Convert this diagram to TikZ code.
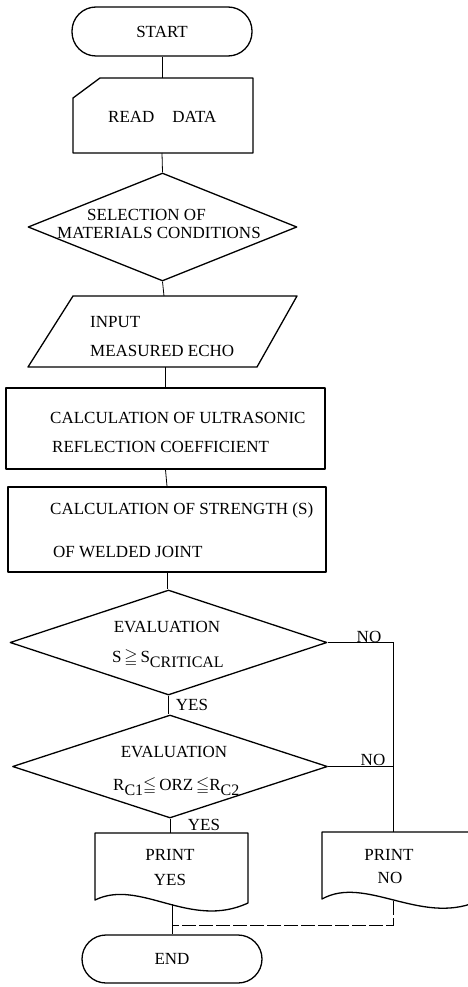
\documentclass[tikz,border=0pt]{standalone}
\usepackage{amssymb}
\usepackage{fontspec}
\setmainfont{Liberation Serif}
\usetikzlibrary{shapes.geometric}
\begin{document}
\begin{tikzpicture}[x=1pt,y=-1pt,
  shp/.style={draw, line width=1.3pt, line join=round},
  con/.style={draw, line width=0.8pt},
  faint/.style={draw, line width=0.6pt},
  ret/.style={draw, line width=0.6pt, dash pattern=on 14pt off 3pt},
  txt/.style={inner sep=0pt, font=\fontsize{17}{17}\selectfont},
  term/.style={shp, rectangle, rounded corners=24pt, minimum width=180pt, minimum height=49pt, inner sep=0pt, font=\fontsize{17}{17}\selectfont},
  procbox/.style={shp, rectangle, inner sep=0pt},
  dia/.style={shp, diamond, inner sep=0pt}]
\useasboundingbox (0,0) rectangle (468,987);

% START
\node[term] (start) at (162,31.5) {START};

% READ DATA (card)
\draw[shp] (73,98) -- (100,78) -- (253,78) -- (253,153) -- (73,153) -- cycle;
\node[txt, anchor=west] (read) at (108,117) {READ\hspace{18pt}DATA};
\coordinate (readT) at (162,78);
\coordinate (readB) at (162,153);

% SELECTION diamond
\node[dia, minimum width=269pt, minimum height=108pt] (sel) at (162.5,227) {};
\node[txt, anchor=west] (sel1) at (87,215) {SELECTION OF};
\node[txt, anchor=west] (sel2) at (57,233) {MATERIALS CONDITIONS};

% INPUT parallelogram
\draw[shp] (73,296) -- (297,296) -- (257,367) -- (28,367) -- cycle;
\node[txt, anchor=west] (in1) at (90,322) {INPUT};
\node[txt, anchor=west] (in2) at (90,351) {MEASURED ECHO};
\coordinate (inT) at (164,296);
\coordinate (inB) at (165.5,367);

% CALCULATION 1
\node[procbox, minimum width=319pt, minimum height=81pt] (calc1) at (165.5,428.5) {};
\node[txt, anchor=west] (c1a) at (50,418) {CALCULATION OF ULTRASONIC};
\node[txt, anchor=west] (c1b) at (52,447) {REFLECTION COEFFICIENT};

% CALCULATION 2
\node[procbox, minimum width=318pt, minimum height=85pt] (calc2) at (167,529.5) {};
\node[txt, anchor=west] (c2a) at (50,510) {CALCULATION OF STRENGTH (S)};
\node[txt, anchor=west] (c2b) at (53,552) {OF WELDED JOINT};

% EVALUATION 1
\node[dia, minimum width=317pt, minimum height=105pt] (ev1) at (168.5,642.5) {};
\node[txt] (ev1a) at (167,627) {EVALUATION};
\node[txt, anchor=base west] (ev1b) at (112,662) {S\,$\geqq$\,S\raisebox{-5pt}{\fontsize{16}{16}\selectfont CRITICAL}};

% EVALUATION 2
\node[dia, minimum width=315pt, minimum height=103pt] (ev2) at (170,766.5) {};
\node[txt] (ev2a) at (174,752) {EVALUATION};
\node[txt, anchor=base west] (ev2b) at (113,790) {R\raisebox{-5pt}{\fontsize{16}{16}\selectfont C1}$\leqq$\,ORZ\,$\leqq$R\raisebox{-5pt}{\fontsize{16}{16}\selectfont C2}};

% labels
\node[txt] (yes1) at (192,705) {YES};
\node[txt] (yes2) at (204,825) {YES};
\node[txt] (no1) at (369,637) {NO};
\node[txt] (no2) at (373,760) {NO};

% PRINT YES (document)
\draw[shp] (95,833) -- (248,833) -- (248,903) .. controls (190,930) and (140,878) .. (95,900) -- cycle;
\node[txt] (py1) at (170,855) {PRINT};
\node[txt] (py2) at (170,880) {YES};
\coordinate (yesT) at (170,833);
\coordinate (yesB) at (172,904);

% PRINT NO (document)
\draw[shp] (322,832) -- (476,832) -- (476,902) .. controls (420,925) and (365,875) .. (322,899) -- cycle;
\node[txt] (pn1) at (389,855) {PRINT};
\node[txt] (pn2) at (390,878) {NO};
\coordinate (noT) at (393,832);
\coordinate (noB) at (393,901);

% END
\node[term, minimum height=48pt] (end) at (172,959) {END};
\coordinate (merge) at (172,925);

% connectors
\draw[con] (start.south) -- (readT);
\draw[con] (readB) -- (sel.north);
\draw[con] (sel.south) -- (inT);
\draw[con] (inB) -- (calc1.north);
\draw[con] (calc1.south) -- (calc2.north);
\draw[con] (calc2.south) -- (calc2.south |- ev1.north);
\draw[con] (ev1.south) -- (ev1.south |- ev2.north);
\draw[con] (ev2.south) -- (ev2.south |- yesT);
\draw[faint] (ev1.east) -| (noT);
\draw[faint] (ev2.east) -- (ev2.east -| noT);
\draw[con] (yesB) -- (end.north);
\draw[ret] (noB) |- (merge);
\end{tikzpicture}
\end{document}
